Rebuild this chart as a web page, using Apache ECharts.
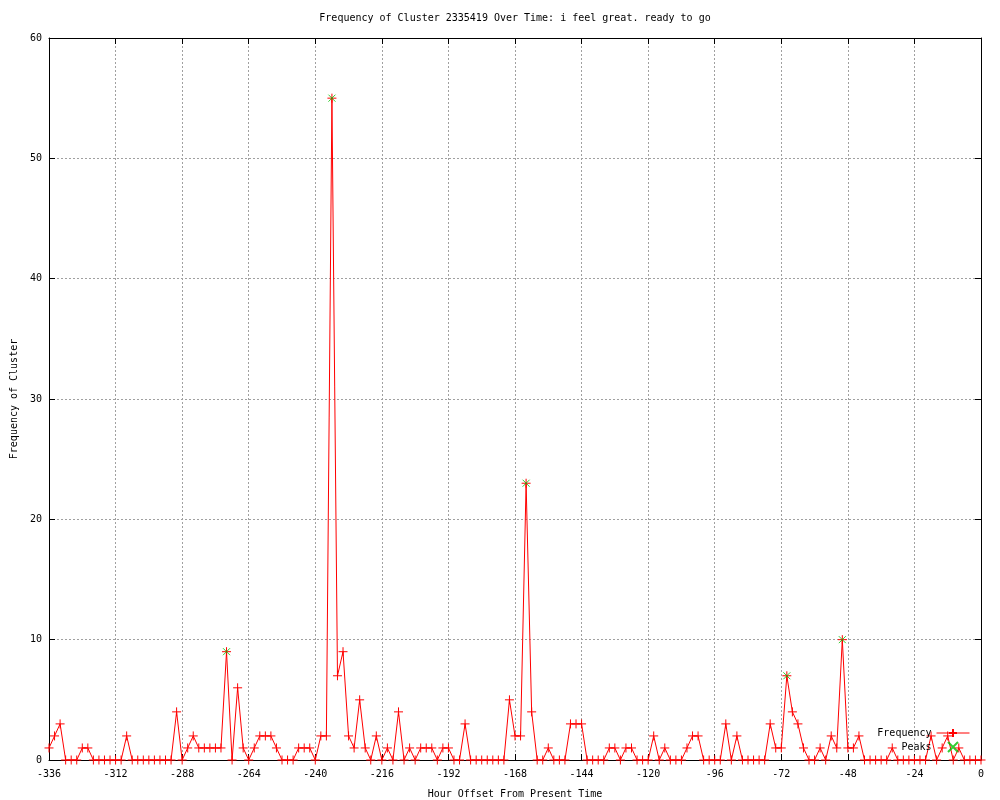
<!DOCTYPE html>
<html>
<head>
<meta charset="utf-8">
<script src="https://cdn.jsdelivr.net/npm/echarts@6/dist/echarts.min.js"></script>
<style>
html,body{margin:0;padding:0;background:#fff;}
#chart{width:1000px;height:800px;}
</style>
</head>
<body>
<div id="chart"></div>
<script>
const titleText = 'Frequency of Cluster 2335419 Over Time: i feel great. ready to go';
const xAxisName = 'Hour Offset From Present Time';
const yAxisName = 'Frequency of Cluster';
const HOUR_START = -336;
const HOUR_STEP = 2;
const frequency = [
  1,2,3,0,0,0,1,1,0,0,0,0,0,0,2,0,0,0,0,0,
  0,0,0,4,0,1,2,1,1,1,1,1,9,0,6,1,0,1,2,2,
  2,1,0,0,0,1,1,1,0,2,2,55,7,9,2,1,5,1,0,2,
  0,1,0,4,0,1,0,1,1,1,0,1,1,0,0,3,0,0,0,0,
  0,0,0,5,2,2,23,4,0,0,1,0,0,0,3,3,3,0,0,0,
  0,1,1,0,1,1,0,0,0,2,0,1,0,0,0,1,2,2,0,0,
  0,0,3,0,2,0,0,0,0,0,3,1,1,7,4,3,1,0,0,1,
  0,2,1,10,1,1,2,0,0,0,0,0,1,0,0,0,0,0,0,2,
  0,1,2,0,1,0,0,0,0
];
const peakHours = [-272, -234, -164, -70, -50];
const peakValues = [9, 55, 23, 7, 10];
const xTicks = [-336,-312,-288,-264,-240,-216,-192,-168,-144,-120,-96,-72,-48,-24,0];
const yTicks = [0,10,20,30,40,50,60];

const hours = frequency.map((v, i) => HOUR_START + HOUR_STEP * i);
const freqData = frequency.map((v, i) => [hours[i], v]);
const peakData = peakHours.map((h, i) => [h, peakValues[i]]);

const FONT = 'DejaVu Sans Mono';
const PLUS = 'path://M0,5L10,5M5,0L5,10';
const CROSS = 'path://M0,0L10,10M10,0L0,10';

const chart = echarts.init(document.getElementById('chart'), null, {renderer: 'canvas'});
const gridLine = {show: true, lineStyle: {color: '#a0a0a0', type: [2, 2], width: 1}};
chart.setOption({
  animation: false,
  backgroundColor: '#fff',
  title: {
    text: titleText, left: 510, top: 8, textAlign: 'center',
    textStyle: {fontFamily: FONT, fontSize: 10, fontWeight: 'normal', color: '#000'}
  },
  legend: {
    orient: 'vertical', right: 30, top: 728, align: 'right', padding: 0,
    itemWidth: 33, itemHeight: 10, itemGap: 3,
    textStyle: {fontFamily: FONT, fontSize: 10, color: '#000'},
    data: [
      {name: 'Frequency', lineStyle: {width: 1, color: '#ff0000'}},
      {name: 'Peaks'}
    ]
  },
  grid: {left: 49, right: 19, top: 38, bottom: 40, show: false, containLabel: false, outerBoundsMode: 'none'},
  xAxis: [{
    type: 'value', min: xTicks[0], max: xTicks[xTicks.length - 1], interval: 24,
    position: 'bottom',
    name: xAxisName, nameLocation: 'middle', nameGap: 29,
    nameTextStyle: {fontFamily: FONT, fontSize: 10, color: '#000'},
    axisLine: {show: true, onZero: false, lineStyle: {color: '#000', width: 1}},
    axisTick: {show: true, inside: true, length: 6, lineStyle: {color: '#000'}},
    axisLabel: {fontFamily: FONT, fontSize: 10, color: '#000', margin: 9},
    splitLine: gridLine
  }, {
    type: 'value', min: xTicks[0], max: xTicks[xTicks.length - 1], interval: 24,
    position: 'top',
    axisLine: {show: true, onZero: false, lineStyle: {color: '#000', width: 1}},
    axisTick: {show: true, inside: true, length: 6, lineStyle: {color: '#000'}},
    axisLabel: {show: false}, splitLine: {show: false}
  }],
  yAxis: [{
    type: 'value', min: yTicks[0], max: yTicks[yTicks.length - 1], interval: 10,
    position: 'left',
    name: yAxisName, nameLocation: 'middle', nameGap: 30, nameRotate: 90,
    nameTextStyle: {fontFamily: FONT, fontSize: 10, color: '#000'},
    axisLine: {show: true, onZero: false, lineStyle: {color: '#000', width: 1}},
    axisTick: {show: true, inside: true, length: 6, lineStyle: {color: '#000'}},
    axisLabel: {fontFamily: FONT, fontSize: 10, color: '#000', margin: 7},
    splitLine: gridLine
  }, {
    type: 'value', min: yTicks[0], max: yTicks[yTicks.length - 1], interval: 10,
    position: 'right',
    axisLine: {show: true, onZero: false, lineStyle: {color: '#000', width: 1}},
    axisTick: {show: true, inside: true, length: 6, lineStyle: {color: '#000'}},
    axisLabel: {show: false}, splitLine: {show: false}
  }],
  series: [{
    name: 'Frequency', type: 'line', data: freqData,
    symbol: PLUS, symbolSize: 9, showSymbol: true, clip: false,
    lineStyle: {color: '#ff0000', width: 1},
    itemStyle: {color: '#ff0000', borderColor: '#ff0000', borderWidth: 1},
    z: 2
  }, {
    name: 'Peaks', type: 'scatter', data: peakData,
    symbol: CROSS, symbolSize: 7,
    itemStyle: {color: '#00c000', borderColor: '#00c000', borderWidth: 1},
    z: 3
  }]
});
</script>
</body>
</html>
